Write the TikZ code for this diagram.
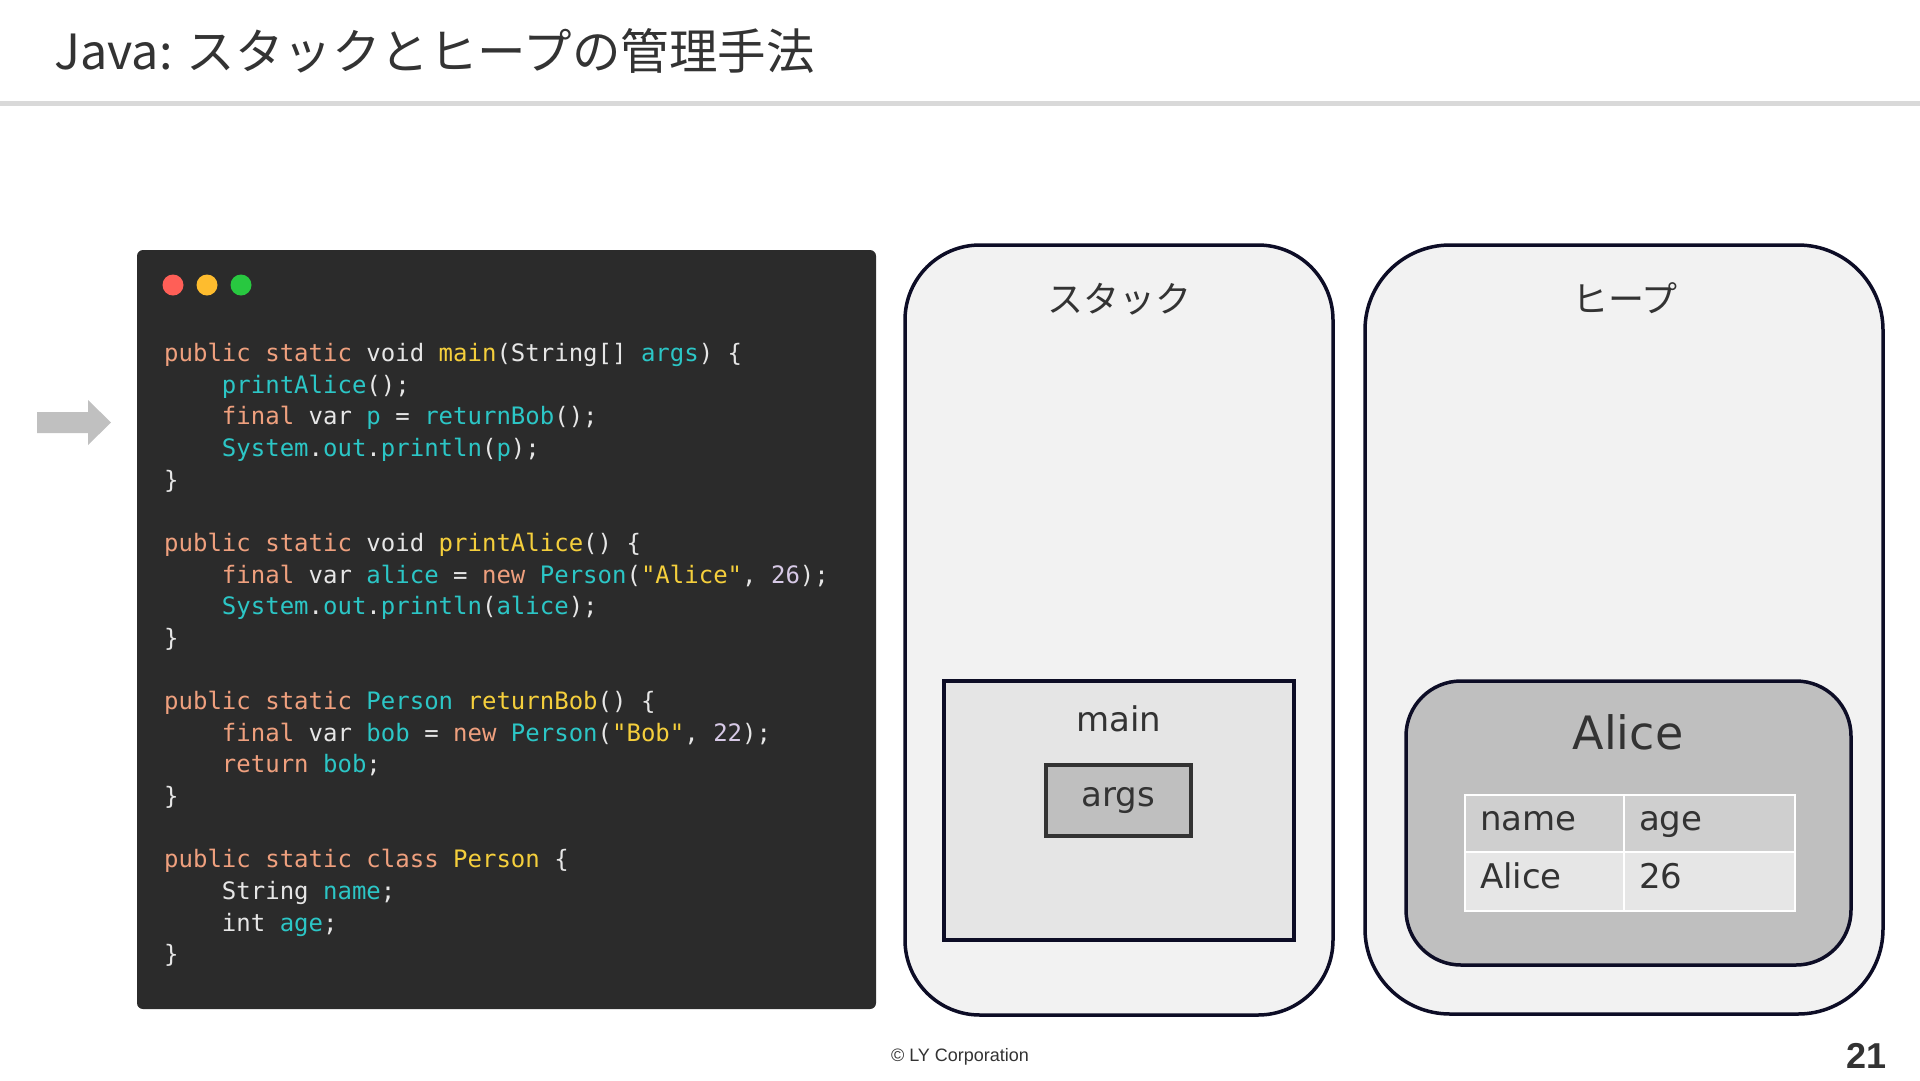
\documentclass[tikz,border=0pt]{standalone}
\usepackage{fontspec}
\setmainfont{DejaVu Sans}
\setmonofont{DejaVu Sans Mono}
\newfontfamily\jpfont{Noto Sans CJK JP}
\newfontfamily\footfont{Liberation Sans}
\usetikzlibrary{positioning}

\definecolor{inkgray}{HTML}{333333}
\definecolor{rulegray}{HTML}{D9D9D9}
\definecolor{codebg}{HTML}{2B2B2B}
\definecolor{codetext}{HTML}{E6E6E6}
\definecolor{codekw}{HTML}{EFA07E}
\definecolor{codefn}{HTML}{F5CF3C}
\definecolor{codeid}{HTML}{2CC6C6}
\definecolor{codenum}{HTML}{D7C9E6}
\definecolor{dotred}{HTML}{FF5F57}
\definecolor{dotyellow}{HTML}{FEBC2E}
\definecolor{dotgreen}{HTML}{28C840}
\definecolor{pointergray}{HTML}{C0C0C0}
\definecolor{panelline}{HTML}{0D0D26}
\definecolor{panelfill}{HTML}{F2F2F2}
\definecolor{framefill}{HTML}{E5E5E5}
\definecolor{slotfill}{HTML}{BFBFBF}
\definecolor{headfill}{HTML}{CFCFCF}
\definecolor{rowfill}{HTML}{E6E6E6}

% colour helpers for the code listing
\newcommand{\ckw}[1]{\textcolor{codekw}{#1}}
\newcommand{\cfn}[1]{\textcolor{codefn}{#1}}
\newcommand{\cid}[1]{\textcolor{codeid}{#1}}
\newcommand{\cnum}[1]{\textcolor{codenum}{#1}}
\newcommand{\ind}{\phantom{xxxx}}

\begin{document}
\begin{tikzpicture}[x=1pt, y=-1pt,
        codeline/.style={anchor=base west, inner sep=0pt, text=codetext, font=\ttfamily\fontsize{24}{30}\selectfont},
        dot/.style={circle, inner sep=0pt, minimum size=21pt},
        panel/.style={draw=panelline, line width=3.5pt, fill=panelfill, inner sep=0pt},
        frame/.style={draw=panelline, line width=3.5pt, fill=framefill, inner sep=0pt},
        slot/.style={draw=inkgray, line width=3.5pt, fill=slotfill, inner sep=0pt, text=inkgray, font=\fontsize{34}{40}\selectfont},
        boxtitle/.style={inner sep=0pt, text=inkgray, font=\jpfont\fontsize{36}{40}\selectfont},
        cell/.style={draw=white, line width=2pt, inner xsep=15pt, inner ysep=0pt, outer sep=0pt, align=left, text height=23pt, text depth=9pt, text=inkgray, font=\fontsize{34}{40}\selectfont}
    ]
        \useasboundingbox[fill=white] (0,0) rectangle (1920,1080);

        % Header
        \node[anchor=west, inner sep=0pt, text=inkgray, font=\jpfont\fontsize{48.5}{52}\selectfont] (title) at (54,51) {Java: スタックとヒープの管理手法};
        \fill[rulegray] (0,101) rectangle (1920,106);

        % Code window
        \node[fill=codebg, rounded corners=6pt, minimum width=739pt, minimum height=759pt, inner sep=0pt] (codepanel) at (506.5,629.5) {};
        \foreach \c [count=\k] in {dotred, dotyellow, dotgreen}
            \node[dot, fill=\c] (dot\k) at (139+34*\k,285) {};

        \node[codeline] (c0) at (164,361) {\ckw{public static} void \cfn{main}(String[] \cid{args}) \{};
        \node[codeline] (c1) at (164,393) {\ind\cid{printAlice}();};
        \node[codeline] (c2) at (164,424) {\ind\ckw{final} var \cid{p} = \cid{returnBob}();};
        \node[codeline] (c3) at (164,456) {\ind\cid{System}.\cid{out}.\cid{println}(\cid{p});};
        \node[codeline] (c4) at (164,488) {\}};
        \node[codeline] (c6) at (164,551) {\ckw{public static} void \cfn{printAlice}() \{};
        \node[codeline] (c7) at (164,583) {\ind\ckw{final} var \cid{alice} = \ckw{new} \cid{Person}(\cfn{"Alice"}, \cnum{26});};
        \node[codeline] (c8) at (164,614) {\ind\cid{System}.\cid{out}.\cid{println}(\cid{alice});};
        \node[codeline] (c9) at (164,646) {\}};
        \node[codeline] (c11) at (164,709) {\ckw{public static} \cid{Person} \cfn{returnBob}() \{};
        \node[codeline] (c12) at (164,741) {\ind\ckw{final} var \cid{bob} = \ckw{new} \cid{Person}(\cfn{"Bob"}, \cnum{22});};
        \node[codeline] (c13) at (164,772) {\ind\ckw{return} \cid{bob};};
        \node[codeline] (c14) at (164,804) {\}};
        \node[codeline] (c16) at (164,867) {\ckw{public static class} \cfn{Person} \{};
        \node[codeline] (c17) at (164,899) {\ind String \cid{name};};
        \node[codeline] (c18) at (164,931) {\ind int \cid{age};};
        \node[codeline] (c19) at (164,962) {\}};

        % Current line marker
        \fill[pointergray] (37,412) -- (88,412) -- (88,400) -- (111,422.5) -- (88,445) -- (88,433) -- (37,433) -- cycle;

        % Stack
        \node[panel, rounded corners=75pt, minimum width=428pt, minimum height=770pt] (stack) at (1119,630) {};
        \node[boxtitle] (stacktitle) at (1119,299) {スタック};
        \node[frame, minimum width=350pt, minimum height=259pt] (mainframe) at (1119,810.5) {};
        \node[anchor=base, inner sep=0pt, text=inkgray, font=\fontsize{34}{40}\selectfont] (maintitle) at (1119,731) {main};
        \node[slot, minimum width=145pt, minimum height=71pt] (args) at (1118.5,800.5) {args};

        % Heap
        \node[panel, rounded corners=85pt, minimum width=518pt, minimum height=769pt] (heap) at (1624,629.5) {};
        \node[boxtitle] (heaptitle) at (1625,298) {ヒープ};
        \node[panel, fill=slotfill, rounded corners=55pt, minimum width=445pt, minimum height=284pt] (alice) at (1628.5,823) {};
        \node[anchor=base, inner sep=0pt, text=inkgray, font=\fontsize{46}{50}\selectfont] (alicetitle) at (1628,749) {Alice};
        \node[cell, fill=headfill, text width=129pt, minimum height=57pt, anchor=north west] (hname) at (1465,795) {name};
        \node[cell, fill=headfill, text width=141pt, minimum height=57pt, right=0pt of hname] (hage) {age};
        \node[cell, fill=rowfill, text width=129pt, minimum height=59pt, below=0pt of hname] (vname) {Alice};
        \node[cell, fill=rowfill, text width=141pt, minimum height=59pt, right=0pt of vname] (vage) {26};

        % Footer
        \node[inner sep=0pt, text=inkgray, font=\footfont\fontsize{18}{20}\selectfont] (copyright) at (960,1057) {© LY Corporation};
        \node[anchor=east, inner sep=0pt, text=inkgray, font=\footfont\bfseries\fontsize{36}{40}\selectfont] (pagenum) at (1887,1056) {21};
    \end{tikzpicture}
\end{document}
